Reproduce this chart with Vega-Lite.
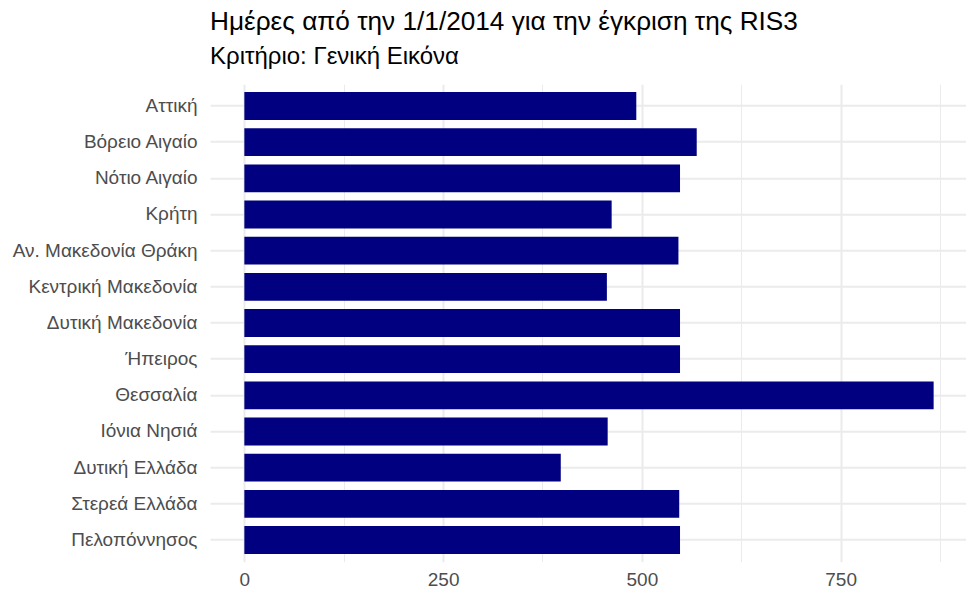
{
  "$schema": "https://vega.github.io/schema/vega-lite/v6.json",
  "autosize": {"type": "none"},
  "width": 756,
  "height": 477.4,
  "padding": {"left": 210, "top": 84.3, "right": 0, "bottom": 31},
  "background": "white",
  "config": {"view": {"stroke": null}},
  "title": {
    "text": "Ημέρες από την 1/1/2014 για την έγκριση της RIS3",
    "subtitle": "Κριτήριο: Γενική Εικόνα",
    "anchor": "start",
    "frame": "group",
    "font": "Liberation Sans",
    "fontSize": 26.2,
    "fontWeight": "normal",
    "color": "#000000",
    "subtitleFont": "Liberation Sans",
    "subtitleFontSize": 24,
    "subtitleColor": "#000000",
    "subtitlePadding": 10,
    "offset": 15
  },
  "data": {
    "values": [
      {"region": "Αττική", "days": 493},
      {"region": "Βόρειο Αιγαίο", "days": 569},
      {"region": "Νότιο Αιγαίο", "days": 548},
      {"region": "Κρήτη", "days": 462},
      {"region": "Αν. Μακεδονία Θράκη", "days": 546},
      {"region": "Κεντρική Μακεδονία", "days": 456},
      {"region": "Δυτική Μακεδονία", "days": 548},
      {"region": "Ήπειρος", "days": 548},
      {"region": "Θεσσαλία", "days": 867},
      {"region": "Ιόνια Νησιά", "days": 457},
      {"region": "Δυτική Ελλάδα", "days": 398},
      {"region": "Στερεά Ελλάδα", "days": 547},
      {"region": "Πελοπόννησος", "days": 548}
    ]
  },
  "mark": {"type": "bar", "color": "#000080"},
  "encoding": {
    "y": {
      "field": "region",
      "type": "nominal",
      "sort": null,
      "scale": {"paddingInner": 0.23, "paddingOuter": 0.215},
      "axis": {
        "title": null,
        "domain": false,
        "ticks": false,
        "bandPosition": 0.5,
        "grid": true,
        "gridColor": "#ebebeb",
        "gridWidth": 2,
        "labelFont": "Liberation Sans",
        "labelFontSize": 19,
        "labelColor": "#4d4d4d",
        "labelPadding": 13,
        "labelLimit": 400
      }
    },
    "x": {
      "field": "days",
      "type": "quantitative",
      "scale": {"domain": [-43.2, 907.7], "zero": false, "nice": false},
      "axis": {
        "title": null,
        "domain": false,
        "ticks": false,
        "values": [0, 125, 250, 375, 500, 625, 750, 875],
        "labelExpr": "datum.value % 250 === 0 ? datum.label : ''",
        "grid": true,
        "gridColor": "#ebebeb",
        "gridWidth": {"condition": {"test": "datum.value % 250 === 0", "value": 2}, "value": 1},
        "labelFont": "Liberation Sans",
        "labelFontSize": 19,
        "labelColor": "#4d4d4d",
        "labelPadding": 9,
        "labelFlush": false
      }
    }
  }
}
